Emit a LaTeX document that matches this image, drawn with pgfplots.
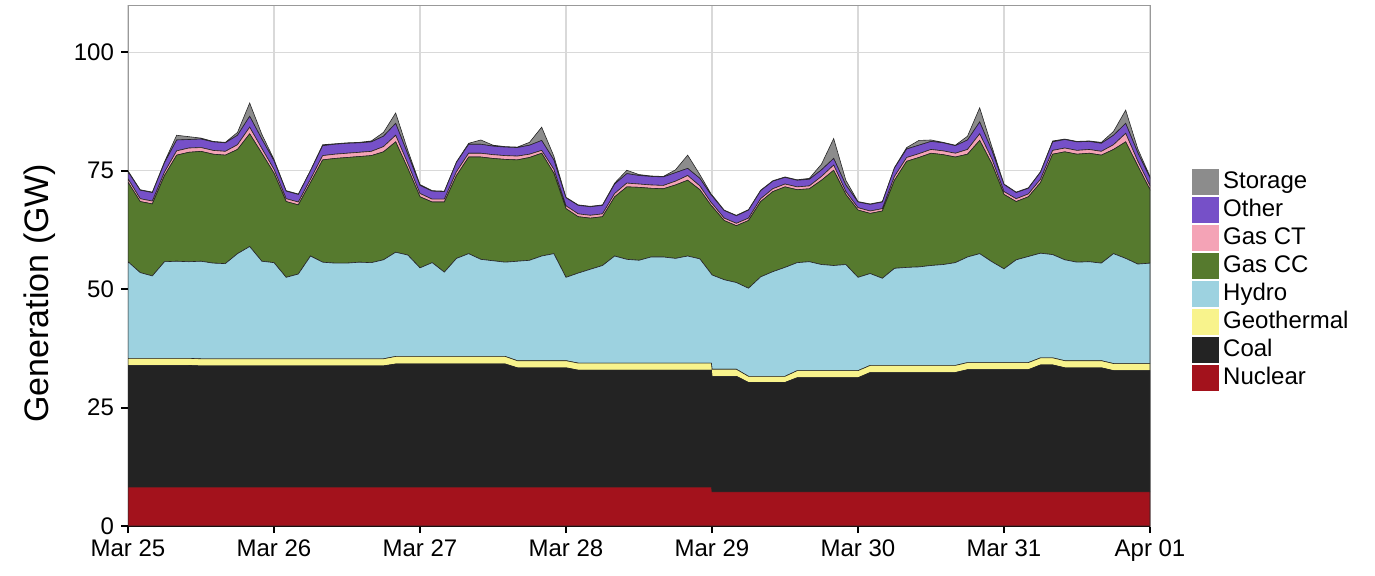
\documentclass[border=0pt]{standalone}
\usepackage{pgfplots}
\pgfplotsset{compat=1.18}
\usepackage{pgfplotstable}
\usepackage{fontspec}
\setmainfont{Liberation Sans}

\definecolor{cStor}{HTML}{8C8C8C}
\definecolor{cOth}{HTML}{7650C8}
\definecolor{cCT}{HTML}{F4A3B6}
\definecolor{cCC}{HTML}{567A2E}
\definecolor{cHyd}{HTML}{9DD2E0}
\definecolor{cGeo}{HTML}{F8F38C}
\definecolor{cCoal}{HTML}{232323}
\definecolor{cNuc}{HTML}{A3121C}

% hours since Mar 25 00:00, generation in GW
\pgfplotstableread{
h nuc coal geo hydro cc ct oth st
0 8.2 25.7 1.5 20.4 16.8 0.7 1.5 0.2
2 8.2 25.7 1.5 18.1 15.0 0.6 1.8 0.1
4 8.2 25.7 1.5 17.4 15.2 0.6 1.8 0.1
6 8.2 25.7 1.5 20.4 18.2 0.7 2.0 0.2
8 8.2 25.7 1.5 20.5 22.4 0.9 2.3 1.0
10 8.2 25.7 1.5 20.4 23.1 0.9 1.8 0.6
12 8.2 25.6 1.5 20.6 23.2 0.8 1.8 0.2
14 8.2 25.6 1.5 20.2 23.0 0.8 1.8 0.1
16 8.2 25.6 1.5 20.1 22.9 0.8 1.8 0.1
18 8.2 25.6 1.5 22.2 22.0 1.0 2.0 0.6
20 8.2 25.6 1.5 23.7 23.8 1.4 2.3 2.8
22 8.2 25.6 1.5 20.6 22.8 1.0 2.0 1.0
24 8.2 25.6 1.5 20.3 18.9 0.8 1.8 0.3
26 8.2 25.6 1.5 17.2 16.0 0.6 1.6 0.1
28 8.2 25.6 1.5 17.9 14.6 0.6 1.6 0.1
30 8.2 25.6 1.5 21.7 15.5 0.7 1.8 0.1
32 8.2 25.6 1.5 20.4 21.6 0.9 2.1 0.2
34 8.2 25.6 1.5 20.2 22.1 0.9 2.1 0.1
36 8.2 25.6 1.5 20.2 22.3 0.9 2.1 0.1
38 8.2 25.6 1.5 20.4 22.3 0.9 2.0 0.1
40 8.2 25.6 1.5 20.3 22.6 0.9 2.0 0.2
42 8.2 25.6 1.5 20.9 22.8 1.1 2.2 0.8
44 8.2 26.0 1.6 22.0 23.3 1.4 2.5 2.2
46 8.2 26.0 1.6 21.4 18.3 1.0 2.0 0.8
48 8.2 26.0 1.6 18.7 15.0 0.7 1.7 0.2
50 8.2 26.0 1.6 19.8 12.8 0.6 1.7 0.1
52 8.2 26.0 1.6 17.8 14.8 0.6 1.6 0.1
54 8.2 26.0 1.6 20.7 17.5 0.8 2.0 0.1
56 8.2 26.0 1.6 21.7 20.4 0.8 1.9 0.2
58 8.2 26.0 1.6 20.5 21.6 0.8 1.9 0.9
60 8.2 26.0 1.6 20.2 21.6 0.8 1.8 0.2
62 8.2 26.0 1.6 19.9 21.7 0.8 1.8 0.1
64 8.2 25.2 1.5 21.0 21.4 0.8 1.8 0.1
66 8.2 25.2 1.5 21.2 21.7 0.7 1.9 0.6
68 8.2 25.2 1.5 22.1 21.7 0.6 2.1 2.8
70 8.2 25.2 1.5 22.6 17.0 0.8 2.0 0.8
72 8.2 25.2 1.5 17.6 14.5 0.6 1.7 0.1
74 8.2 24.7 1.5 19.0 11.9 0.6 1.8 0.1
76 8.2 24.7 1.5 19.8 10.8 0.6 1.8 0.1
78 8.2 24.7 1.5 20.6 10.3 0.6 1.8 0.1
80 8.2 24.7 1.5 22.6 12.5 0.7 2.0 0.2
82 8.2 24.7 1.5 21.9 15.3 0.8 2.0 0.7
84 8.2 24.7 1.5 21.7 15.4 0.7 1.8 0.2
86 8.2 24.7 1.5 22.4 14.5 0.7 1.8 0.1
88 8.2 24.7 1.5 22.4 14.4 0.7 1.8 0.1
90 8.2 24.7 1.5 22.1 15.5 0.8 1.8 0.6
92 8.2 24.7 1.5 22.6 16.0 1.0 1.5 2.8
94 8.2 24.7 1.5 22.0 14.6 0.8 1.6 0.8
95.9 8.2 24.7 1.5 18.8 14.4 0.6 1.6 0.2
96 7.2 24.4 1.5 19.9 14.5 0.6 1.6 0.2
98 7.2 24.4 1.5 18.9 12.5 0.5 1.6 0.1
100 7.2 24.4 1.5 18.3 12.0 0.5 1.6 0.1
102 7.2 23.1 1.3 18.6 14.3 0.5 1.7 0.1
104 7.2 23.1 1.3 21.0 15.9 0.6 1.7 0.1
106 7.2 23.1 1.3 22.1 16.9 0.6 1.6 0.1
108 7.2 23.1 1.3 23.0 17.0 0.6 1.4 0.1
110 7.2 24.1 1.5 22.8 15.4 0.6 1.4 0.1
112 7.2 24.1 1.5 23.0 15.4 0.6 1.4 0.2
114 7.2 24.1 1.5 22.4 17.8 0.8 1.4 1.2
116 7.2 24.1 1.5 22.2 20.1 1.1 1.4 4.2
118 7.2 24.1 1.5 22.4 14.8 0.6 1.4 1.0
120 7.2 24.1 1.5 19.7 14.2 0.5 1.2 0.1
122 7.2 25.2 1.5 19.4 12.7 0.5 1.4 0.1
124 7.2 25.2 1.5 18.4 14.2 0.5 1.4 0.1
126 7.2 25.2 1.5 20.5 18.6 0.8 1.8 0.1
128 7.2 25.2 1.5 20.7 22.4 0.8 1.8 0.3
130 7.2 25.2 1.5 20.8 23.1 0.8 1.8 1.0
132 7.2 25.2 1.5 21.1 23.7 0.8 1.7 0.3
134 7.2 25.2 1.5 21.3 23.2 0.8 1.7 0.1
136 7.2 25.2 1.5 21.7 22.3 0.8 1.6 0.1
138 7.2 25.8 1.5 22.3 21.7 1.0 2.0 0.8
140 7.2 25.8 1.5 23.0 23.9 1.4 2.5 3.0
142 7.2 25.8 1.5 21.3 20.7 1.0 1.8 0.8
144 7.2 25.8 1.5 19.8 15.7 0.6 1.5 0.1
146 7.2 25.8 1.5 21.7 12.3 0.6 1.3 0.1
148 7.2 25.8 1.5 22.4 12.6 0.6 1.2 0.1
150 7.2 26.8 1.5 22.1 14.9 0.7 1.5 0.1
152 7.2 26.8 1.5 21.8 21.2 0.8 1.8 0.2
154 7.2 26.2 1.5 21.3 22.8 0.8 1.8 0.1
156 7.2 26.2 1.5 20.8 22.8 0.8 1.8 0.1
158 7.2 26.2 1.5 20.9 22.9 0.8 1.7 0.1
160 7.2 26.2 1.5 20.6 22.8 0.8 1.7 0.2
162 7.2 25.6 1.5 23.2 22.0 1.0 2.0 0.8
164 7.2 25.6 1.5 22.2 24.6 1.8 2.1 2.8
166 7.2 25.6 1.5 21.0 20.7 1.0 1.8 0.8
168 7.2 25.6 1.5 21.2 15.5 0.8 1.7 0.3
}\gen

\begin{document}
\begin{tikzpicture}
\useasboundingbox (-64pt,-24.5pt) rectangle (623.5pt,263pt);
\begin{axis}[
  at={(0,0)}, anchor=south west,
  scale only axis, width=511pt, height=260.5pt,
  xmin=0, xmax=168, ymin=0, ymax=110,
  stack plots=y,
  xtick={0,24,48,72,96,120,144,168},
  xticklabels={Mar 25,Mar 26,Mar 27,Mar 28,Mar 29,Mar 30,Mar 31,Apr 01},
  ytick={0,25,50,75,100},
  grid=major,
  grid style={color=black!15, line width=0.6pt},
  axis line style={black!40, line width=0.5pt},
  tick align=outside, major tick length=3.5pt,
  tick style={black, line width=1pt},
  xtick pos=bottom, ytick pos=left,
  ticklabel style={font=\fontsize{12}{14}\selectfont},
  /pgf/number format/assume math mode=true,
  ylabel={Generation (GW)},
  ylabel style={font=\fontsize{17}{20}\selectfont, at={(axis description cs:-0.086,0.447)}, anchor=center},
  every axis plot/.append style={draw=black!85, line width=0.3pt},
  reverse legend,
  legend cell align=left,
  legend style={at={(axis description cs:1.035,0.695)}, anchor=north west,
    draw=none, fill=none, font=\fontsize{12}{14}\selectfont,
    row sep=0pt, column sep=1.5pt,
    nodes={inner sep=0.5pt, text height=9.8pt, text depth=3.2pt}},
  legend image code/.code={\path[#1,draw=none] (0pt,-6.5pt) rectangle (13.5pt,6.5pt);},
]
\addplot[fill=cNuc] table[x=h,y=nuc] {\gen} \closedcycle;
\addlegendentry{Nuclear}
\addplot[fill=cCoal] table[x=h,y=coal] {\gen} \closedcycle;
\addlegendentry{Coal}
\addplot[fill=cGeo] table[x=h,y=geo] {\gen} \closedcycle;
\addlegendentry{Geothermal}
\addplot[fill=cHyd] table[x=h,y=hydro] {\gen} \closedcycle;
\addlegendentry{Hydro}
\addplot[fill=cCC] table[x=h,y=cc] {\gen} \closedcycle;
\addlegendentry{Gas CC}
\addplot[fill=cCT] table[x=h,y=ct] {\gen} \closedcycle;
\addlegendentry{Gas CT}
\addplot[fill=cOth] table[x=h,y=oth] {\gen} \closedcycle;
\addlegendentry{Other}
\addplot[fill=cStor] table[x=h,y=st] {\gen} \closedcycle;
\addlegendentry{Storage}
\draw[black, line width=0.6pt] (axis cs:0,0) -- (axis cs:168,0);
\end{axis}
\end{tikzpicture}
\end{document}
